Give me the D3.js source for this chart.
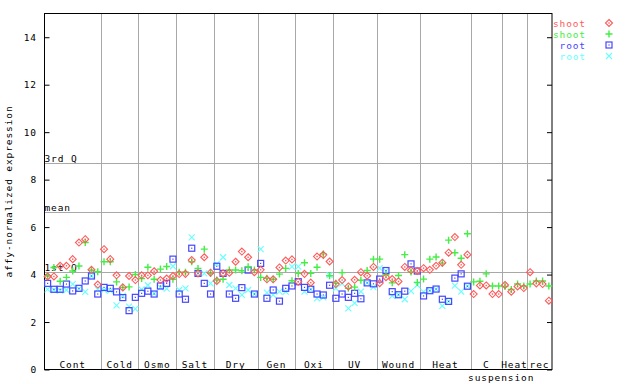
<!DOCTYPE html>
<html>
<head>
<meta charset="utf-8">
<script src="https://cdn.jsdelivr.net/npm/d3@7"></script>
<style>
  body { margin: 0; background: #fff; }
  text { font-family: "DejaVu Sans Mono", monospace; font-size: 9.5px; letter-spacing: 0.9px; }
</style>
</head>
<body>
<div id="chart"></div>
<script>
// groups along the x axis and how many samples each holds
const groups = ["Cont", "Cold", "Osmo", "Salt", "Dry", "Gen", "Oxi", "UV", "Wound", "Heat", "C", "Heat", "rec"];
const groupSizes = [9, 6, 6, 6, 7, 6, 6, 7, 7, 8, 5, 4, 4];
const subLabels = ["", "", "", "", "", "", "", "", "", "", "suspension", "", ""];

const yTicks = [0, 2, 4, 6, 8, 10, 12, 14];
const statLabels = ["3rd Q", "mean", "1st Q"];
const statValues = [8.7, 6.63, 4.1];

const seriesNames = ["shoot", "shoot", "root", "root"];

// shoot, replicate 1 (red diamonds)
const shoot1 = [
  3.92, 3.92, 4.37, 4.37, 4.65, 5.35, 5.49, 4.2, 3.58,
  5.07, 4.65, 3.97, 3.46, 3.94, 3.77,
  3.97, 3.97, 4.14, 3.77, 3.83, 3.94,
  4.02, 4.03, 4.61, 4.05, 4.73, 4.08,
  3.73, 4.05, 4.08, 4.54, 4.97, 4.73, 4.1,
  4.2, 3.8, 3.8, 4.3, 4.59, 4.64,
  3.7, 4.03, 3.66, 4.76, 4.83, 4.55,
  3.6, 3.77, 3.5, 3.78, 4.1, 3.95, 4.32,
  3.64, 3.89, 3.81, 3.71, 4.32, 4.18, 4.15,
  4.27, 4.2, 4.37, 4.5, 4.92, 5.58, 4.41, 4.84,
  3.18, 3.54, 3.54, 3.18, 3.18,
  3.56, 3.28, 3.5, 3.43,
  4.1, 3.63, 3.6, 2.9
];
// shoot, replicate 2 (green crosses)
const shoot2 = [
  3.94, 4.3, 3.72, 3.88, 4.15, 4.36, 5.35, 4.18, 4.12,
  4.54, 4.54, 3.69, 3.46, 3.48, 4.0,
  3.83, 4.31, 3.8, 4.23, 4.34, 3.8,
  4.1, 4.1, 4.54, 4.26, 5.07, 4.05,
  3.77, 3.8, 4.19, 4.19, 4.16, 4.33, 4.19,
  3.88, 3.84, 3.8, 4.02, 4.26, 3.74,
  4.05, 4.5, 4.05, 4.31, 4.87, 3.95,
  3.63, 4.08, 3.42, 3.47, 3.76, 4.17, 4.65,
  4.65, 3.99, 3.65, 3.96, 4.84, 4.11, 3.67,
  3.81, 4.65, 4.74, 4.48, 5.45, 4.92, 4.69, 5.72,
  3.69, 3.72, 4.03, 3.52, 3.52,
  3.5, 3.37, 3.6, 3.52,
  3.6, 3.73, 3.73, 3.52
];
// root, replicate 1 (blue squares)
const root1 = [
  3.63, 3.38, 3.38, 3.6, 3.31, 3.42, 3.73, 3.94, 3.18,
  3.46, 3.42, 3.27, 3.03, 2.48, 3.04,
  3.21, 3.3, 3.18, 3.52, 3.63, 4.65,
  3.18, 2.96, 5.11, 4.05, 3.63, 3.18,
  4.35, 4.05, 3.18, 3.0, 3.45, 4.19, 3.18,
  4.47, 3.0, 3.35, 2.88, 3.42, 3.52,
  3.7, 3.46, 3.38, 3.18, 3.14, 3.55,
  3.0, 3.18, 3.04, 3.21, 2.98, 3.65, 3.61,
  3.81, 4.17, 3.28, 3.15, 3.3, 4.45, 4.15,
  3.1, 3.32, 3.39, 2.96, 2.87, 3.85, 4.03, 3.51,
  null, null, null, null, null,
  null, null, null, null,
  null, null, null, null
];
// root, replicate 2 (cyan x)
const root2 = [
  3.38, 3.35, 3.32, 3.35, 3.6, 3.4, 3.27, 3.94, 3.38,
  3.35, 3.32, 2.7, 3.1, 2.65, 2.55,
  3.38, 3.55, 3.21, 3.46, 3.41, 4.35,
  3.35, 3.42, 5.57, 4.05, 4.05, 3.63,
  4.45, 4.73, 3.56, 3.42, 3.14, 3.35, 3.18,
  5.07, 3.24, 3.14, 3.28, 3.28, 4.33,
  4.33, 3.28, 3.38, 3.0, 3.04, 3.98,
  3.42, 3.63, 2.58, 2.8, 3.28, 3.65, 3.47,
  4.27, 4.16, 3.1, 3.15, 2.96, 3.3, 3.56,
  3.27, 3.32, 3.39, 2.68, 2.87, 3.53, 3.28, 3.51,
  null, null, null, null, null,
  null, null, null, null,
  null, null, null, null
];

const colors = ["#ff5a5a", "#44ee44", "#4646ff", "#66ffff"];
const shapes = ["diamond", "plus", "square", "cross"];
const allSeries = [shoot1, shoot2, root1, root2];

function drawChart() {
  const W = 640, H = 384;
  const margin = { top: 13.5, right: 88, bottom: 14.5, left: 44.5 };

  const svg = d3.select("#chart").append("svg")
      .attr("width", W)
      .attr("height", H);

  const nSamples = d3.sum(groupSizes);
  const x = d3.scaleLinear().domain([0, nSamples]).range([margin.left, W - margin.right]);
  const y = d3.scaleLinear().domain([0, 15]).range([H - margin.bottom, margin.top]);

  const x0 = x.range()[0], x1 = x.range()[1];
  const yTop = y.range()[1], yBot = y.range()[0];

  // group boundaries
  const starts = [];
  let acc = 0;
  groupSizes.forEach(n => { starts.push(acc); acc += n; });

  svg.append("g").selectAll("line")
      .data(starts.slice(1))
      .join("line")
      .attr("x1", d => Math.round(x(d)) + 0.5)
      .attr("x2", d => Math.round(x(d)) + 0.5)
      .attr("y1", yTop)
      .attr("y2", yBot)
      .attr("stroke", "#a8a8a8");

  // quartile / mean lines
  const stats = svg.append("g");
  stats.selectAll("line")
      .data(statValues)
      .join("line")
      .attr("x1", x0)
      .attr("x2", x1)
      .attr("y1", d => Math.round(y(d)) + 0.5)
      .attr("y2", d => Math.round(y(d)) + 0.5)
      .attr("stroke", "#a8a8a8");
  stats.selectAll("text")
      .data(statValues)
      .join("text")
      .attr("x", x0)
      .attr("y", d => Math.round(y(d)) - 1)
      .text((d, i) => statLabels[i]);

  // frame
  svg.append("rect")
      .attr("x", x0).attr("y", yTop)
      .attr("width", x1 - x0).attr("height", yBot - yTop)
      .attr("fill", "none").attr("stroke", "#000");

  // left axis, ticks pointing inward
  const left = svg.append("g").attr("transform", `translate(${x0},0)`)
      .call(d3.axisRight(y).tickValues(yTicks).tickSize(5).tickFormat(""));
  left.select(".domain").remove();
  left.selectAll("line").attr("stroke", "#000");
  svg.append("g").selectAll("text")
      .data(yTicks)
      .join("text")
      .attr("x", 37)
      .attr("y", d => y(d) + 3.5)
      .attr("text-anchor", "end")
      .text(d => d);

  // right axis ticks
  const right = svg.append("g").attr("transform", `translate(${x1},0)`)
      .call(d3.axisLeft(y).tickValues(yTicks).tickSize(5).tickFormat(""));
  right.select(".domain").remove();
  right.selectAll("line").attr("stroke", "#000");

  // group labels
  svg.append("g").selectAll("text")
      .data(groups)
      .join("text")
      .attr("x", (d, i) => x(starts[i] + groupSizes[i] / 2))
      .attr("y", yBot - 2)
      .attr("text-anchor", "middle")
      .text(d => d);
  svg.append("g").selectAll("text")
      .data(subLabels.map((s, i) => ({ s, i })).filter(d => d.s))
      .join("text")
      .attr("x", d => x(starts[d.i] + groupSizes[d.i] / 2) + 15)
      .attr("y", yBot + 11)
      .attr("text-anchor", "middle")
      .text(d => d.s);

  // y title
  svg.append("text")
      .attr("transform", `translate(12,${(yTop + yBot) / 2}) rotate(-90)`)
      .attr("text-anchor", "middle")
      .text("affy-normalized expression");

  // markers
  function marker(g, shape, color) {
    if (shape === "diamond") {
      g.append("path").attr("d", "M0,-3.5L3.5,0L0,3.5L-3.5,0Z")
          .attr("fill", "none").attr("stroke", color).attr("stroke-width", 1.1);
      g.append("rect").attr("x", -0.7).attr("y", -0.7).attr("width", 1.4).attr("height", 1.4).attr("fill", color);
    } else if (shape === "plus") {
      g.append("path").attr("d", "M-3.5,0H3.5M0,-3.5V3.5")
          .attr("stroke", color).attr("stroke-width", 1.4);
    } else if (shape === "square") {
      g.append("rect").attr("x", -3).attr("y", -3).attr("width", 6).attr("height", 6)
          .attr("fill", "none").attr("stroke", color).attr("stroke-width", 1.2);
      g.append("rect").attr("x", -0.6).attr("y", -0.6).attr("width", 1.2).attr("height", 1.2).attr("fill", color);
    } else {
      g.append("path").attr("d", "M-3,-3L3,3M-3,3L3,-3")
          .attr("stroke", color).attr("stroke-width", 1.1);
    }
  }

  [3, 2, 1, 0].forEach(s => {
    const pts = allSeries[s].map((v, i) => ({ v, i })).filter(d => d.v != null);
    svg.append("g").selectAll("g")
        .data(pts)
        .join("g")
        .attr("transform", d => `translate(${x(d.i + 0.5)},${y(d.v)})`)
        .each(function () { marker(d3.select(this), shapes[s], colors[s]); });
  });

  // legend
  const legend = svg.append("g");
  seriesNames.forEach((name, i) => {
    const ly = 23 + i * 11;
    legend.append("text")
        .attr("x", 586).attr("y", ly + 3.5)
        .attr("text-anchor", "end")
        .attr("fill", colors[i])
        .text(name);
    const g = legend.append("g").attr("transform", `translate(609,${ly})`);
    marker(g, shapes[i], colors[i]);
  });
}

drawChart();
</script>
</body>
</html>
